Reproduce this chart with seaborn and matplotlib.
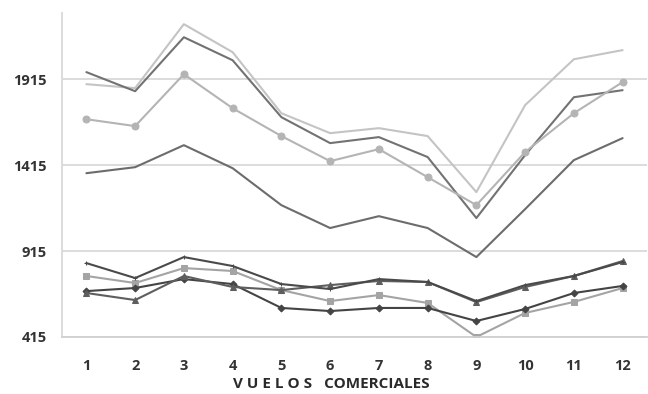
import pandas as pd
import matplotlib.pyplot as plt
import seaborn as sns

# monthly values per series
meses = list(range(1, 13))

serie_a = [1886, 1863, 2235, 2072, 1717, 1601, 1630, 1584, 1258, 1764, 2031, 2084]
serie_b = [1956, 1845, 2159, 2025, 1694, 1543, 1578, 1462, 1107, 1473, 1810, 1851]
serie_c = [1682, 1642, 1944, 1746, 1584, 1438, 1508, 1345, 1182, 1491, 1717, 1898]
serie_d = [1368, 1403, 1531, 1397, 1182, 1049, 1118, 1049, 880, 1159, 1444, 1572]
serie_e = [845, 758, 880, 828, 723, 694, 752, 735, 624, 717, 770, 851]
serie_f = [770, 729, 816, 799, 688, 624, 659, 613, 415, 555, 619, 700]
serie_g = [682, 700, 752, 723, 584, 566, 584, 584, 508, 578, 671, 712]
serie_h = [671, 630, 770, 706, 688, 717, 741, 735, 618, 706, 770, 857]

y_ticks = [415, 915, 1415, 1915]

sns.set_style("white")
plt.rcParams["font.family"] = ["Open Sans", "DejaVu Sans"]

fig, ax = plt.subplots(figsize=(6.48, 3.94), dpi=100)
fig.subplots_adjust(left=62 / 648, right=647 / 648, top=1 - 13 / 394, bottom=1 - 337 / 394)

# name, values, color, marker, marker size
series = [
    ("A", serie_a, "#c4c4c4", None, 0),
    ("B", serie_b, "#727272", None, 0),
    ("C", serie_c, "#b4b4b4", "o", 5),
    ("D", serie_d, "#6c6c6c", None, 0),
    ("F", serie_f, "#a4a4a4", "s", 5),
    ("G", serie_g, "#444444", "D", 3.5),
    ("H", serie_h, "#5e5e5e", "^", 4.5),
    ("E", serie_e, "#4a4a4a", "+", 3),
]

for name, vals, color, marker, ms in series:
    df = pd.DataFrame({"mes": meses, "valor": vals})
    sns.lineplot(data=df, x="mes", y="valor", ax=ax, color=color, linewidth=1.5,
                 marker=marker, markersize=ms, markeredgecolor=color, sort=False)

ax.set_xlim(0.5, 12.5)
ax.set_ylim(415, 2300)
ax.set_yticks(y_ticks)
ax.set_yticklabels([str(v) for v in y_ticks], fontsize=10.5, color="#333333", fontweight="bold")
ax.set_xticks(meses)
ax.set_xticklabels([str(m) for m in meses], fontsize=10.5, color="#333333", fontweight="bold")
ax.set_xticks([m - 0.5 for m in meses] + [12.5], minor=True)
ax.tick_params(axis="x", which="major", length=0, pad=16)
ax.tick_params(axis="x", which="minor", length=5, color="#d0d0d0", width=1)
ax.tick_params(axis="y", length=4, color="#d0d0d0", width=1, pad=7)

ax.grid(axis="y", color="#d9d9d9", linewidth=1.3)
ax.set_axisbelow(True)
for side in ["top", "right"]:
    ax.spines[side].set_visible(False)
ax.spines["left"].set_color("#d9d9d9")
ax.spines["bottom"].set_color("#d0d0d0")
ax.spines["left"].set_linewidth(1.3)
ax.spines["bottom"].set_linewidth(1.3)

ax.set_xlabel("")
ax.set_ylabel("")
fig.text(331 / 648, 1 - 384 / 394, "V U E L O S   COMERCIALES", ha="center", va="center",
         fontsize=11, fontweight="bold", color="#2a2a2a")

plt.savefig("out.png", dpi=100)
plt.close()
